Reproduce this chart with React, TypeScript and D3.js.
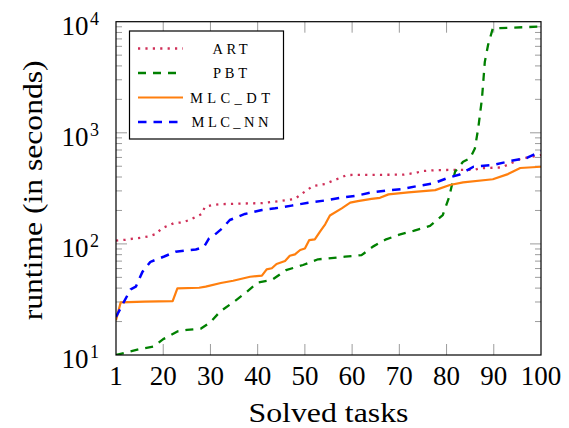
import React from "react";
import * as d3 from "d3";

// ---- data ----
const xTickValues = [10, 20, 30, 40, 50, 60, 70, 80, 90, 100];
const xTickLabels = ["1", "20", "30", "40", "50", "60", "70", "80", "90", "100"];
const yExponents = [1, 2, 3, 4];

const artPoints: [number, number][] = [
  [10, 107], [12, 109], [14, 112], [15.5, 114], [17, 117], [18.5, 123], [19.7, 138],
  [22.3, 154], [24, 156], [25.5, 164], [28.2, 186], [28.8, 215], [30.5, 224], [32, 228],
  [41, 233], [44.7, 243], [47.9, 254], [49, 276], [51.7, 332], [54.3, 346], [56, 372],
  [57.4, 392], [58.9, 417], [71, 420], [73.5, 437], [75, 453], [78, 462], [86, 465],
  [87, 480], [91.7, 488], [94, 540], [95.6, 581], [97.7, 606], [100, 631],
];

const pbtPoints: [number, number][] = [
  [10, 10], [12, 10.5], [15, 11.3], [18, 11.9], [20, 13.9], [21, 14.6], [23, 16.3],
  [25, 16.8], [28, 17.3], [30, 19.7], [32, 24.5], [35, 30.2], [37.7, 37], [40, 44.8],
  [43, 47.3], [46, 58], [49.6, 64.6], [52.8, 72.7], [55, 74], [58.5, 76.8], [62, 79.2],
  [64.4, 94.5], [67.2, 110], [70, 121], [73, 131], [76.5, 145], [79.2, 182], [80.5, 260],
  [81.8, 446], [83.5, 549], [85, 590], [86, 723], [86.7, 1094], [87.5, 2030], [88.1, 4350],
  [88.8, 6190], [89.8, 8720], [100, 9040],
];

const dtPoints: [number, number][] = [
  [10, 20.6], [11, 29.8], [16, 30.2], [22, 30.6], [23, 39.8], [27.6, 40.3], [29, 41.2],
  [32.2, 44.5], [34.8, 46.6], [38.4, 50.6], [40.9, 51.8], [41.9, 59], [43, 60.4], [44, 66],
  [45.8, 70.2], [46.8, 78.2], [47.9, 80.5], [49, 88.1], [50, 91], [50.9, 108], [52.1, 110],
  [53.2, 129], [54.3, 150], [55.3, 180], [57.8, 209], [59.6, 235], [61.2, 243], [64.1, 254],
  [65.9, 260], [67.7, 279], [71.9, 291], [77.6, 305], [80.7, 339], [83.5, 358], [89.8, 382],
  [93, 425], [95.6, 482], [100, 495],
];

const nnPoints: [number, number][] = [
  [10, 22], [11.7, 30.2], [13.1, 39], [14.2, 41.2], [15.6, 56], [17.3, 69], [20.2, 77],
  [22.6, 85], [26.9, 89], [28.6, 93.4], [29.7, 112], [30.8, 120], [32.5, 138], [34.1, 164],
  [37.3, 186], [40.9, 202], [43.7, 209], [47.2, 221], [50.7, 235], [54.6, 247], [57.4, 260],
  [61, 272], [63.8, 289], [67.3, 302], [70.5, 311], [74, 333], [77.2, 350], [80, 389],
  [82.8, 422], [85.7, 495], [89.9, 513], [93.4, 556], [97, 594], [100, 683],
];

const series = [
  { name: "ART", points: artPoints, color: "#cf2f58", dash: "2.2 5.2", width: 2.3, textW: 35 },
  { name: "PBT", points: pbtPoints, color: "#008000", dash: "8 7", width: 2.3, textW: 34 },
  { name: "MLC_DT", points: dtPoints, color: "#ff7f0e", dash: "none", width: 2.2, textW: 80 },
  { name: "MLC_NN", points: nnPoints, color: "#0000ff", dash: "8.5 7", width: 2.5, textW: 77 },
];

const W = 569;
const H = 428;
const left = 116, right = 541, top = 21.7, bottom = 355;
const tickGray = "#9c9c9c";

export default function App() {
  const x = d3.scaleLinear().domain([10, 100]).range([left, right]);
  const y = d3.scaleLog().domain([10, 10000]).range([bottom, top]);

  const line = d3.line<[number, number]>()
    .x(d => x(d[0]))
    .y(d => y(d[1]));

  // minor ticks 2..9 per decade
  const minor: number[] = [];
  for (let e = 1; e < 4; e++) {
    for (let m = 2; m <= 9; m++) minor.push(m * Math.pow(10, e));
  }

  return (
    <div style={{ position: "absolute", left: 0, top: 0 }}>
      <svg width={W} height={H} style={{ display: "block" }}>
        <defs>
          <clipPath id="plotclip">
            <rect x={left} y={top} width={right - left} height={bottom - top} />
          </clipPath>
        </defs>

        {/* x ticks, bottom and top */}
        {xTickValues.slice(1, -1).map(v => (
          <g key={"xt" + v}>
            <line x1={x(v)} x2={x(v)} y1={bottom} y2={bottom - 11} stroke={tickGray} strokeWidth={1} />
            <line x1={x(v)} x2={x(v)} y1={top} y2={top + 11} stroke={tickGray} strokeWidth={1} />
          </g>
        ))}

        {/* y ticks, left and right */}
        {yExponents.slice(1, -1).map(e => {
          const v = Math.pow(10, e);
          return (
            <g key={"yt" + e}>
              <line x1={left} x2={left + 11} y1={y(v)} y2={y(v)} stroke={tickGray} strokeWidth={1} />
              <line x1={right} x2={right - 11} y1={y(v)} y2={y(v)} stroke={tickGray} strokeWidth={1} />
            </g>
          );
        })}
        {minor.map(v => (
          <g key={"ym" + v}>
            <line x1={left} x2={left + 6} y1={y(v)} y2={y(v)} stroke={tickGray} strokeWidth={1} />
            <line x1={right} x2={right - 6} y1={y(v)} y2={y(v)} stroke={tickGray} strokeWidth={1} />
          </g>
        ))}

        {/* series */}
        <g clipPath="url(#plotclip)">
          {series.map(s => (
            <path
              key={s.name}
              d={line(s.points) || ""}
              fill="none"
              stroke={s.color}
              strokeWidth={s.width}
              strokeDasharray={s.dash}
              strokeLinejoin="round"
            />
          ))}
        </g>

        {/* frame */}
        <rect x={left} y={top} width={right - left} height={bottom - top} fill="none" stroke="#000" strokeWidth={1.2} />

        {/* x tick labels */}
        {xTickValues.map((v, i) => (
          <text key={"xl" + v} x={x(v)} y={384.5} textAnchor="middle" fontSize={27}>
            {xTickLabels[i]}
          </text>
        ))}

        {/* y tick labels 10^e */}
        {yExponents.map(e => {
          const yy = y(Math.pow(10, e)) + 13;
          return (
            <g key={"yl" + e}>
              <text x={88.5} y={yy} textAnchor="end" fontSize={27}>10</text>
              <text x={90} y={yy - 10} fontSize={18}>{e}</text>
            </g>
          );
        })}

        {/* axis titles */}
        <text x={(left + right) / 2} y={422} textAnchor="middle" fontSize={27}
          textLength={160} lengthAdjust="spacingAndGlyphs">Solved tasks</text>
        <text transform={`translate(41.5, ${(top + bottom) / 2 + 2}) rotate(-90)`} textAnchor="middle"
          fontSize={27} textLength={260} lengthAdjust="spacingAndGlyphs">runtime (in seconds)</text>

        {/* legend */}
        <rect x={129.5} y={31} width={154} height={108} fill="#fff" stroke="#000" strokeWidth={1.2} />
        {series.map((s, i) => {
          const ly = 48.5 + i * 24.5;
          return (
            <g key={"lg" + s.name}>
              <line x1={138} x2={183} y1={ly} y2={ly} stroke={s.color} strokeWidth={s.width}
                strokeDasharray={s.dash} />
              <text x={230} y={ly + 5} textAnchor="middle" fontSize={14.5}
                textLength={s.textW} lengthAdjust="spacing">{s.name}</text>
            </g>
          );
        })}
      </svg>
    </div>
  );
}
